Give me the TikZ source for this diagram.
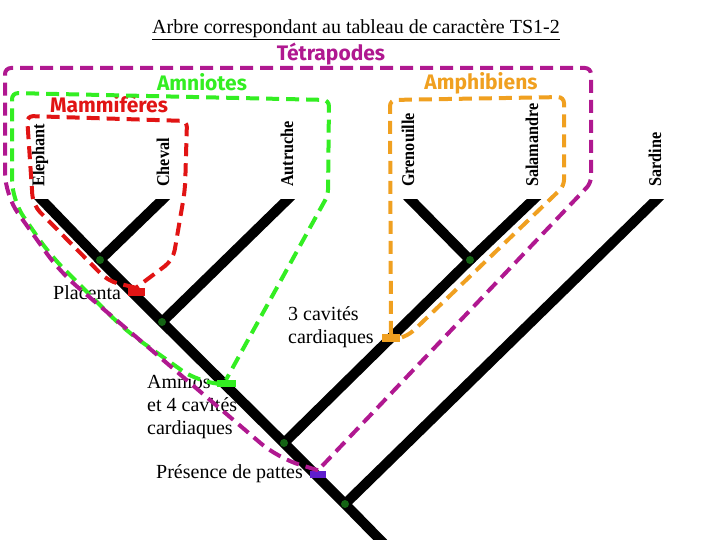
\documentclass[tikz,border=0pt]{standalone}
\usepackage{fontspec}
\setmainfont{Liberation Serif}
\newfontfamily\grpfont{Fira Sans}
\newfontfamily\leaffont{Liberation Serif}[FakeStretch=0.9]
\definecolor{tetra}{RGB}{176,24,144}
\definecolor{amnio}{RGB}{51,238,34}
\definecolor{mammi}{RGB}{225,20,20}
\definecolor{amphi}{RGB}{240,160,32}
\definecolor{patte}{RGB}{95,30,205}
\definecolor{noeud}{RGB}{20,100,20}

\begin{document}
\begin{tikzpicture}[x=1pt,y=-1pt,
  branche/.style={line width=10pt,line cap=butt,shorten <=-12pt},
  groupe/.style={line width=4pt,dash pattern=on 13pt off 7pt},
  espece/.style={rotate=90,anchor=west,inner sep=0pt,font=\leaffont\bfseries\fontsize{18}{18}\selectfont},
  clade/.style={inner sep=0pt,font=\grpfont\bfseries\fontsize{21}{21}\selectfont},
  caract/.style={align=left,anchor=west,inner sep=0pt,font=\fontsize{20}{23}\selectfont},
  barre/.style={minimum width=17pt,minimum height=8pt,inner sep=0pt}]
\useasboundingbox[fill=white] (0,0) rectangle (720,540);

\node[font=\fontsize{20}{24}\selectfont] (titre) at (356,30) {\underline{Arbre correspondant au tableau de caractère TS1-2}};

% feuilles et noeuds
\coordinate (elephant) at (42,200);
\coordinate (cheval) at (162,200);
\coordinate (autruche) at (287,200);
\coordinate (grenouille) at (411,200);
\coordinate (salamandre) at (533,200);
\coordinate (sardine) at (656,200);
\coordinate (n1) at (100,260);
\coordinate (n2) at (162,322);
\coordinate (n3) at (284,443);
\coordinate (n4) at (345,504);
\coordinate (namph) at (470,260);
\coordinate (racine) at (392,552);

\begin{scope}
\clip (0,200) rectangle (720,540);
\draw[branche] (elephant) -- (n1);
\draw[branche] (cheval) -- (n1);
\draw[branche] (autruche) -- (n2);
\draw[branche] (grenouille) -- (namph);
\draw[branche] (salamandre) -- (namph);
\draw[branche] (sardine) -- (n4);
\draw[branche,shorten <=-4pt] (n1) -- (n2) -- (n3) -- (n4) -- (racine);
\draw[branche,shorten <=-4pt] (namph) -- (n3);
\end{scope}

\foreach \n in {n1,n2,n3,n4,namph}
  \fill[noeud] (\n) circle (4pt);

% especes
\node[espece] (tElephant) at (40,187) {Elephant};
\node[espece] (tCheval) at (163,187) {Cheval};
\node[espece] (tAutruche) at (287,187) {Autruche};
\node[espece] (tGrenouille) at (408,187) {Grenouille};
\node[espece] (tSalamandre) at (532,187) {Salamandre};
\node[espece] (tSardine) at (655,187) {Sardine};

% groupes
\node[clade,text=tetra] (gTetra) at (331,54) {Tétrapodes};
\node[clade,text=amnio] (gAmnio) at (202,82) {Amniotes};
\node[clade,text=amphi] (gAmphi) at (481,83) {Amphibiens};
\node[clade,text=mammi] (gMammi) at (109,104) {Mammifères};

% caracteres
\node[caract] (cPlacenta) at (53,293) {Placenta};
\node[caract] (cCavites) at (288,327) {3 cavités\\cardiaques};
\node[caract] (cAmnios) at (147,407) {Amnios\\et 4 cavités\\cardiaques};
\node[caract] (cPattes) at (156,474) {Présence de pattes};

\node[barre,fill=mammi] (placenta) at (136,292) {};
\node[barre,fill=amnio,minimum width=19pt,minimum height=7pt] (amnios) at (226,383.5) {};
\node[barre,fill=amphi,minimum width=18pt] (cavites) at (391,338) {};
\node[barre,fill=patte,minimum width=16pt,minimum height=7pt] (pattes) at (318,474) {};

% contours des groupes
\draw[groupe,mammi] (placenta.north) [rounded corners=10pt] -- (108,281) -- (33,205)
  [rounded corners=6pt] -- (27,116) -- (187,121) [rounded corners=10pt] -- (185,190) -- (173,260) -- (placenta.north);
\draw[groupe,amnio] (amnios.west) [rounded corners=20pt] -- (198,382) -- (125,330) -- (50,255) -- (12,200)
  [rounded corners=6pt] -- (12,93) -- (329,100) -- (328,195) -- (amnios.north);
\draw[groupe,amphi] (cavites.north) [rounded corners=6pt] -- (390,100) -- (564,97) -- (564,186) -- (410,334) -- (cavites.east);
\draw[groupe,tetra] (pattes.north) [rounded corners=22pt] -- (278,458) -- (60,272) -- (5,195)
  [rounded corners=6pt] -- (5,68) -- (591,68) -- (591,183) -- (pattes.north);
\end{tikzpicture}
\end{document}
